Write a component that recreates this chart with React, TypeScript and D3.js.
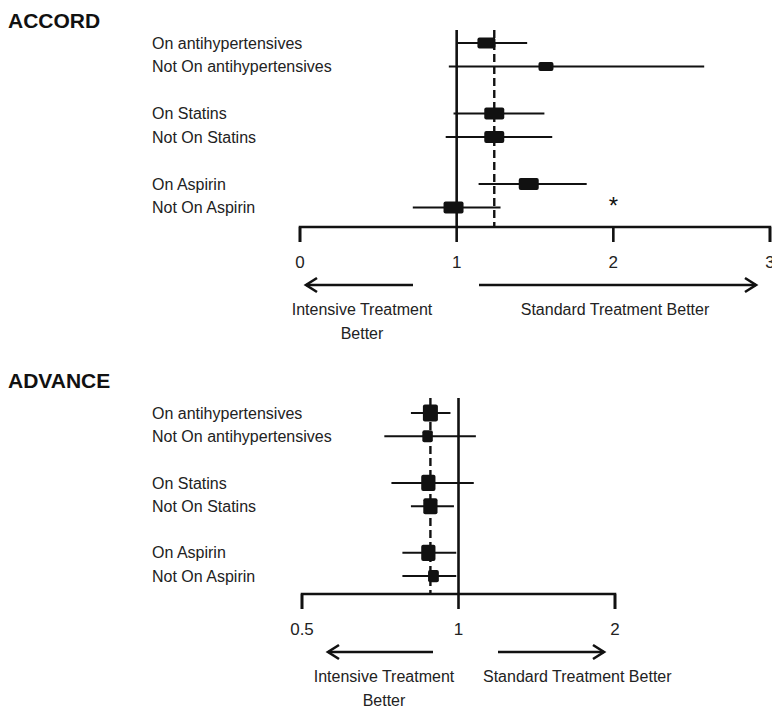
import React from "react";
import { scaleLinear, scaleLog, ScaleContinuousNumeric } from "d3";

// subgroups shown in both trials
const groups = ["antihypertensives", "Statins", "Aspirin"];

// ACCORD: hazard ratio, CI and relative box weight, order = On / Not On per group
const accordHR = [1.19, 1.57, 1.24, 1.24, 1.46, 0.98];
const accordLo = [1.0, 0.95, 0.98, 0.93, 1.14, 0.72];
const accordHi = [1.45, 2.58, 1.56, 1.61, 1.83, 1.28];
const accordWeight = [0.9, 0.75, 1, 1, 1, 1];
const accordOverall = 1.24;
const accordTicks = [0, 1, 2, 3];

// ADVANCE
const advanceHR = [0.883, 0.872, 0.875, 0.883, 0.875, 0.895];
const advanceLo = [0.81, 0.72, 0.743, 0.81, 0.78, 0.78];
const advanceHi = [0.965, 1.08, 1.07, 0.98, 0.99, 0.99];
const advanceWeight = [1, 0.7, 0.95, 0.95, 0.95, 0.72];
const advanceOverall = 0.883;
const advanceTicks = [0.5, 1, 2];

const FONT = "'Liberation Sans', Arial, sans-serif";
const INK = "#111";

type PanelProps = {
  title: string;
  titleY: number;
  hr: number[];
  lo: number[];
  hi: number[];
  weight: number[];
  overall: number;
  ticks: number[];
  x: ScaleContinuousNumeric<number, number>;
  rowY0: number;
  rowStep: number;
  axisY: number;
  lineTop: number;
  boxW: number;
  boxH: number;
  leftArrow: [number, number];
  rightArrow: [number, number];
  leftTextX: number;
  rightTextX: number;
  rightAnchor: "middle" | "start";
  star?: number;
};

function arrowHead(x: number, y: number, dir: number) {
  return `M${x - dir * 11},${y - 7} L${x},${y} L${x - dir * 11},${y + 7}`;
}

function Panel(p: PanelProps) {
  const rows = groups.flatMap((g, gi) => [
    { label: `On ${g}`, slot: gi * 3 },
    { label: `Not On ${g}`, slot: gi * 3 + 1 },
  ]);
  const y = scaleLinear().domain([0, 1]).range([p.rowY0, p.rowY0 + p.rowStep]);
  const [x0, x1] = p.x.range();
  const tickLen = 15;
  const arrowY = p.axisY + 58;

  return (
    <g fontFamily={FONT} fill={INK}>
      <text x={8} y={p.titleY} fontSize={21} fontWeight="bold">{p.title}</text>

      {rows.map((r) => (
        <text key={r.label} x={152} y={y(r.slot)} dy="0.35em" fontSize={16} fill="#222">
          {r.label}
        </text>
      ))}

      {/* reference line at 1 and overall dashed line */}
      <line x1={p.x(1)} x2={p.x(1)} y1={p.lineTop} y2={p.axisY} stroke={INK} strokeWidth={2.6} />
      <line x1={p.x(p.overall)} x2={p.x(p.overall)} y1={p.lineTop} y2={p.axisY}
        stroke={INK} strokeWidth={2.4} strokeDasharray="8,4" />

      {rows.map((r, i) => {
        const cy = y(r.slot);
        const w = p.boxW * p.weight[i];
        const h = p.boxH * p.weight[i];
        return (
          <g key={i}>
            <line x1={p.x(p.lo[i])} x2={p.x(p.hi[i])} y1={cy} y2={cy} stroke={INK} strokeWidth={2} />
            <rect x={p.x(p.hr[i]) - w / 2} y={cy - h / 2} width={w} height={h} rx={2} fill={INK} />
          </g>
        );
      })}

      {p.star !== undefined && (
        <text x={p.x(p.star)} y={y(6.5)} dy="0.75em" fontSize={24} textAnchor="middle">*</text>
      )}

      {/* axis */}
      <path d={`M${x0},${p.axisY + tickLen} V${p.axisY} H${x1} V${p.axisY + tickLen}`}
        fill="none" stroke={INK} strokeWidth={2.6} />
      {p.ticks.map(t => (
        <g key={t}>
          <line x1={p.x(t)} x2={p.x(t)} y1={p.axisY} y2={p.axisY + tickLen} stroke={INK} strokeWidth={2.6} />
          <text x={p.x(t)} y={p.axisY + 41} fontSize={17} textAnchor="middle" fill="#222">{t}</text>
        </g>
      ))}

      {/* direction arrows */}
      <g stroke={INK} strokeWidth={2.6} fill="none">
        <line x1={p.leftArrow[0]} x2={p.leftArrow[1]} y1={arrowY} y2={arrowY} />
        <path d={arrowHead(p.leftArrow[1], arrowY, -1)} />
        <line x1={p.rightArrow[0]} x2={p.rightArrow[1]} y1={arrowY} y2={arrowY} />
        <path d={arrowHead(p.rightArrow[1], arrowY, 1)} />
      </g>
      <text x={p.leftTextX} y={arrowY + 30} fontSize={16} textAnchor="middle" fill="#222">Intensive Treatment</text>
      <text x={p.leftTextX} y={arrowY + 54} fontSize={16} textAnchor="middle" fill="#222">Better</text>
      <text x={p.rightTextX} y={arrowY + 30} fontSize={16} textAnchor={p.rightAnchor} fill="#222">
        Standard Treatment Better
      </text>
    </g>
  );
}

export default function App() {
  const xAccord = scaleLinear().domain([0, 3]).range([300, 770]);
  const xAdvance = scaleLog().base(2).domain([0.5, 2]).range([302, 615]);

  return (
    <svg width={772} height={723} style={{ position: "absolute", left: 0, top: 0, background: "#fff" }}>
      <Panel
        title="ACCORD" titleY={28}
        hr={accordHR} lo={accordLo} hi={accordHi} weight={accordWeight}
        overall={accordOverall} ticks={accordTicks} x={xAccord}
        rowY0={43} rowStep={23.5} axisY={227} lineTop={30}
        boxW={20} boxH={12}
        leftArrow={[413, 306]} rightArrow={[479, 756]}
        leftTextX={362} rightTextX={615} rightAnchor="middle"
        star={2}
      />
      <Panel
        title="ADVANCE" titleY={388}
        hr={advanceHR} lo={advanceLo} hi={advanceHi} weight={advanceWeight}
        overall={advanceOverall} ticks={advanceTicks} x={xAdvance}
        rowY0={413} rowStep={23.3} axisY={594} lineTop={398}
        boxW={15} boxH={17}
        leftArrow={[433, 328]} rightArrow={[498, 604]}
        leftTextX={384} rightTextX={483} rightAnchor="start"
      />
    </svg>
  );
}
